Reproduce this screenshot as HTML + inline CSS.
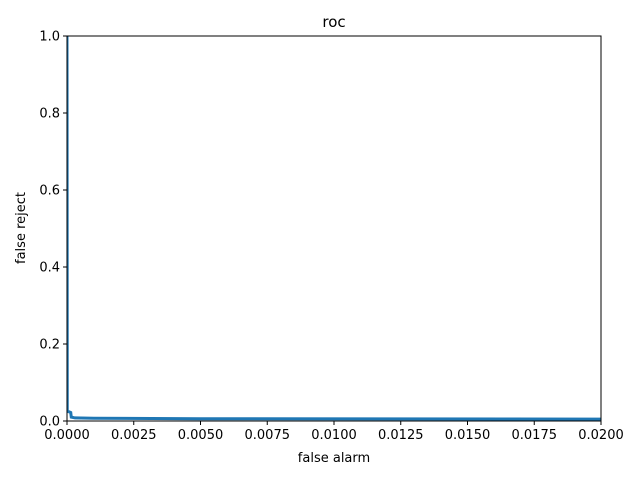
<!DOCTYPE html>
<html><head><meta charset="utf-8"><style>
body{margin:0;background:#fff}
text{font-family:"DejaVu Sans","Liberation Sans",sans-serif;font-size:13px;fill:#000}
</style></head><body>
<svg id="c" width="640" height="480">
<rect width="640" height="480" fill="#fff"/>
</svg>
<script>
const xs=[0,0.000002,0.00001,0.00008,0.00014,0.00016,0.0003,0.001,0.005,0.02];
const ys=[1.0,0.9,0.025,0.024,0.022,0.01,0.008,0.007,0.006,0.005];
const xTicks=[0,0.0025,0.005,0.0075,0.01,0.0125,0.015,0.0175,0.02];
const xTickLabels=["0.0000","0.0025","0.0050","0.0075","0.0100","0.0125","0.0150","0.0175","0.0200"];
const yTicks=[0,0.2,0.4,0.6,0.8,1.0];
const yTickLabels=["0.0","0.2","0.4","0.6","0.8","1.0"];
const L=67,R=601,T=36,B=421;
const X=v=>L+(v-0)/0.02*(R-L), Y=v=>B-v*(B-T);
const svg=document.getElementById('c'),NS='http://www.w3.org/2000/svg';
function mk(t,a,p){const e=document.createElementNS(NS,t);for(const k in a)e.setAttribute(k,a[k]);(p||svg).appendChild(e);return e;}
const cp=mk('clipPath',{id:'cp'});mk('rect',{x:L,y:T,width:R-L,height:B-T},cp);
const line=mk('polyline',{points:xs.map((x,i)=>X(x)+','+Y(ys[i])).join(' '),fill:'none',stroke:'#1f77b4','stroke-width':3,'clip-path':'url(#cp)'});


const fr=mk('rect',{x:L,y:T,width:R-L,height:B-T,fill:'none',stroke:'#000','stroke-width':1});


xTicks.forEach((v,i)=>{mk('line',{x1:X(v),x2:X(v),y1:B,y2:B+4,stroke:'#000'});
const t=mk('text',{x:X(v),y:B+18,'text-anchor':'middle'});t.textContent=xTickLabels[i];

});
yTicks.forEach((v,i)=>{mk('line',{x1:L-4,x2:L,y1:Y(v),y2:Y(v),stroke:'#000'});
const t=mk('text',{x:L-7,y:Y(v)+4.5,'text-anchor':'end'});t.textContent=yTickLabels[i];

});
let t=mk('text',{x:334,y:27,'text-anchor':'middle',style:'font-size:15px'});t.textContent='roc';


t=mk('text',{x:334,y:462,'text-anchor':'middle'});t.textContent='false alarm';


t=mk('text',{x:25,y:228,'text-anchor':'middle',transform:'rotate(-90 25 228)'});t.textContent='false reject';


</script>
</body></html>
